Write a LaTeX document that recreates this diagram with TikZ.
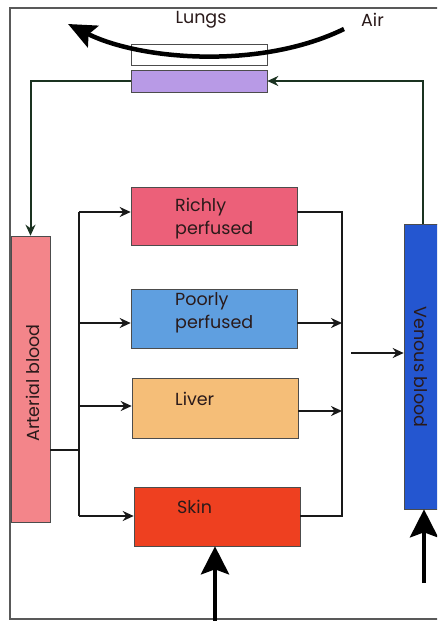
\documentclass[tikz,border=0pt]{standalone}
\usepackage{fontspec}
\setmainfont{Poppins}
\usetikzlibrary{arrows.meta}
\definecolor{richc}{HTML}{EC6079}
\definecolor{poorc}{HTML}{5F9FE0}
\definecolor{liverc}{HTML}{F5BE78}
\definecolor{skinc}{HTML}{EE4020}
\definecolor{artc}{HTML}{F3858A}
\definecolor{venc}{HTML}{2456D0}
\definecolor{lungc}{HTML}{B89AE6}
\definecolor{greenl}{HTML}{1A3220}
\definecolor{txtc}{HTML}{2A1A1A}
\tikzset{
  box/.style={draw=black!70, line width=0.6pt, inner sep=0pt},
  lbl/.style={font=\fontsize{17.5}{23}\selectfont, text=txtc, align=left, anchor=north west, inner sep=0pt},
  conn/.style={line width=2pt, black!90},
  arr/.style={conn, -{Stealth[length=11pt,width=10pt]}},
  gconn/.style={line width=2pt, greenl},
  bigarr/.style={line width=4.5pt, black, -{Stealth[length=28pt,width=28pt,inset=5pt]}},
}
\begin{document}
\begin{tikzpicture}[x=1pt,y=-1pt]
\useasboundingbox (0,0) rectangle (437,621);
\clip (0,0) rectangle (437,621);
\fill[white] (0,0) rectangle (437,621);
\draw[black!65, line width=1.2pt] (10,8) rectangle (460,619);

% lungs
\node[lbl, anchor=north] (lungs) at (201,11) {Lungs};
\node[lbl] (air) at (361,13) {Air};
\node[box, fill=white, minimum width=136pt, minimum height=21pt] (lungbox) at (199,55) {};
\node[box, fill=lungc, minimum width=136pt, minimum height=22pt] (purple) at (199,81) {};
\coordinate (airIn) at (344,29);
\coordinate (airOut) at (68,24);
\draw[line width=4.5pt, black, -{Stealth[length=28pt,width=24pt,inset=5pt]}]
  (airIn) .. controls (260,70) and (140,60) .. (airOut);

% tissue boxes
\node[box, fill=richc, minimum width=166pt, minimum height=58pt] (rich) at (214,216) {};
\node[box, fill=poorc, minimum width=166pt, minimum height=59pt] (poor) at (214,318.5) {};
\node[box, fill=liverc, minimum width=166pt, minimum height=60pt] (liver) at (215,408) {};
\node[box, fill=skinc, minimum width=166pt, minimum height=59pt] (skin) at (217,516.5) {};
\node[lbl] (richT) at (175,198) {Richly\\perfused};
\node[lbl] (poorT) at (175,292) {Poorly\\perfused};
\node[lbl] (liverT) at (175,392) {Liver};
\node[lbl] (skinT) at (177,500) {Skin};

% blood boxes
\node[box, fill=artc, minimum width=39pt, minimum height=286pt] (art) at (30.5,379) {};
\node[box, fill=venc, minimum width=38pt, minimum height=285pt] (ven) at (423,366.5) {};
\node[font=\fontsize{17.5}{20}\selectfont, text=txtc, rotate=90, inner sep=0pt] (artT) at (33,383) {Arterial blood};
\node[font=\fontsize{17.5}{20}\selectfont, text=txtc, rotate=-90, inner sep=0pt] (venT) at (421,367) {Venous blood};

% lung connections
\draw[gconn, -{Stealth[length=11pt,width=10pt]}] (purple.west) -| (art.north);
\draw[gconn, -{Stealth[length=11pt,width=10pt]}] (ven.north) |- (purple.east);

% arterial distribution
\coordinate (tTop) at (79,212);
\coordinate (tBr) at (79,450);
\coordinate (tBot) at (79,516);
\draw[conn] (art.east |- tBr) -- (tBr);
\draw[conn] (tTop) -- (tBot);
\draw[arr] (tTop) -- (rich.west |- tTop);
\draw[arr] (79,323) -- (poor.west |- 0,323);
\draw[arr] (79,406) -- (liver.west |- 0,406);
\draw[arr] (tBot) -- (skin.west |- tBot);

% venous collection
\coordinate (cTop) at (342,212);
\coordinate (cBot) at (342,516);
\draw[conn] (rich.east |- cTop) -- (cTop) -- (cBot) -- (skin.east |- cBot);
\draw[arr] (poor.east |- 0,323) -- (342,323);
\draw[arr] (liver.east |- 0,411) -- (342,411);
\coordinate (cOut) at (351,353);
\draw[arr] (cOut) -- (ven.west |- cOut);

% inputs
\coordinate (skinIn) at (215,621);
\draw[bigarr] (skinIn) -- (skin.south -| skinIn);
\coordinate (venIn) at (424,583);
\draw[bigarr] (venIn) -- (ven.south -| venIn);
\end{tikzpicture}
\end{document}
